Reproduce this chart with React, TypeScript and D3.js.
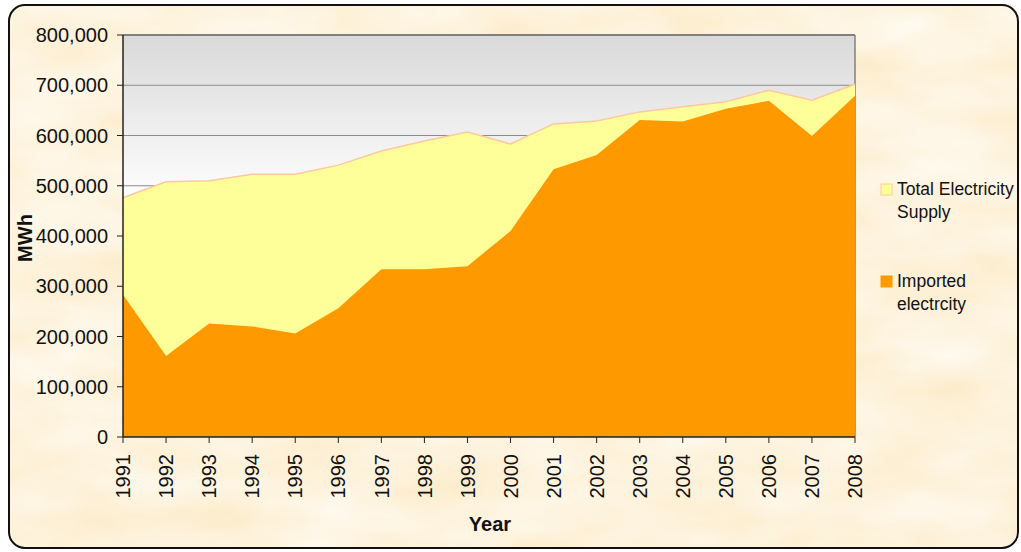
import React from "react";
import * as d3 from "d3";

const years = [1991,1992,1993,1994,1995,1996,1997,1998,1999,2000,2001,2002,2003,2004,2005,2006,2007,2008];
const totalSupply = [476000,508000,510000,523000,523000,541000,569000,589000,607000,583000,623000,629000,647000,657000,667000,690000,670000,702000];
const imported = [283000,161000,226000,220000,206000,256000,334000,334000,340000,410000,533000,561000,631000,628000,653000,669000,599000,679000];
const yTicks = [0,100000,200000,300000,400000,500000,600000,700000,800000];
const legendItems = [
  { lines: ["Total Electricity", "Supply"], color: "#FFFF99", stroke: "#FFCC99" },
  { lines: ["Imported", "electrcity"], color: "#FF9900", stroke: "#FF9900" },
];

const W = 1021, H = 552;
const plot = { left: 123, right: 855, top: 35, bottom: 437 };

export default function App() {
  const x = d3.scaleLinear().domain([1991, 2008]).range([plot.left, plot.right]);
  const y = d3.scaleLinear().domain([0, 800000]).range([plot.bottom, plot.top]);
  const fmt = d3.format(",");

  const areaGen = d3.area<number>()
    .x((_, i) => x(years[i]))
    .y0(y(0))
    .y1((d) => y(d));
  const lineGen = d3.line<number>().x((_, i) => x(years[i])).y((d) => y(d));

  const font = "'Liberation Sans', Arial, sans-serif";

  return (
    <svg width={W} height={H} style={{ position: "absolute", left: 0, top: 0, display: "block" }} fontFamily={font}>
      <defs>
        <filter id="parch" x="0" y="0" width="100%" height="100%">
          <feTurbulence type="fractalNoise" baseFrequency="0.008 0.02" numOctaves="4" seed="7" result="n" />
          <feColorMatrix in="n" type="matrix"
            values="0.04 0 0 0 0.964  0.16 0 0 0 0.814  0.38 0 0 0 0.535  0 0 0 0 1" />
        </filter>
        <clipPath id="frameClip">
          <rect x={9} y={5} width={1009} height={543} rx={16} ry={16} />
        </clipPath>
        <linearGradient id="plotGrad" x1="0" y1="0" x2="0" y2="1">
          <stop offset="0" stopColor="#D9D9D9" />
          <stop offset="0.42" stopColor="#FFFFFF" />
          <stop offset="1" stopColor="#FFFFFF" />
        </linearGradient>
      </defs>
      <rect x={0} y={0} width={W} height={H} fill="#ffffff" />
      <g clipPath="url(#frameClip)">
        <rect x={0} y={0} width={W} height={H} fill="#FAE2B2" />
        <rect x={0} y={0} width={W} height={H} filter="url(#parch)" />
      </g>
      <rect x={9} y={5} width={1009} height={543} rx={16} ry={16} fill="none" stroke="#111" strokeWidth={2} />

      {/* plot area */}
      <rect x={plot.left} y={plot.top} width={plot.right - plot.left} height={plot.bottom - plot.top} fill="url(#plotGrad)" />
      {yTicks.filter((t) => t > 0).map((t) => (
        <line key={t} x1={plot.left} x2={plot.right} y1={y(t)} y2={y(t)} stroke="#8C8C8C" strokeWidth={1} />
      ))}
      <line x1={plot.left} x2={plot.right} y1={plot.top} y2={plot.top} stroke="#808080" strokeWidth={2} />
      <line x1={plot.right} x2={plot.right} y1={plot.top} y2={plot.bottom} stroke="#808080" strokeWidth={1.5} />

      <path d={areaGen(totalSupply) || ""} fill="#FFFF99" />
      <path d={lineGen(totalSupply) || ""} fill="none" stroke="#FFC8A0" strokeWidth={1.5} />
      <path d={areaGen(imported) || ""} fill="#FF9900" />

      {/* axes */}
      <line x1={plot.left} x2={plot.left} y1={plot.top} y2={plot.bottom} stroke="#222" strokeWidth={1.5} />
      <line x1={plot.left} x2={plot.right} y1={plot.bottom} y2={plot.bottom} stroke="#222" strokeWidth={1.5} />
      {yTicks.map((t) => (
        <g key={t}>
          <line x1={plot.left - 6} x2={plot.left} y1={y(t)} y2={y(t)} stroke="#222" strokeWidth={1} />
          <text x={108} y={y(t)} dy="0.36em" textAnchor="end" fontSize={20} fill="#111">{fmt(t)}</text>
        </g>
      ))}
      {years.map((yr) => (
        <g key={yr}>
          <line x1={x(yr)} x2={x(yr)} y1={plot.bottom} y2={plot.bottom + 6} stroke="#222" strokeWidth={1} />
          <text transform={`translate(${x(yr)},${454}) rotate(-90)`} dy="0.36em" textAnchor="end" fontSize={20} fill="#111">{yr}</text>
        </g>
      ))}
      <text x={490} y={531} textAnchor="middle" fontSize={20} fontWeight="bold" fill="#111">Year</text>
      <text transform="translate(32,238) rotate(-90)" textAnchor="middle" fontSize={20} fontWeight="bold" fill="#111">MWh</text>

      {/* legend */}
      {legendItems.map((it, i) => {
        const base = i === 0 ? 195 : 287;
        return (
          <g key={i}>
            <rect x={881} y={base - 11} width={11} height={11} fill={it.color} stroke={it.stroke} strokeWidth={1} />
            {it.lines.map((ln, j) => (
              <text key={j} x={897} y={base + j * 23} fontSize={17.5} fill="#111">{ln}</text>
            ))}
          </g>
        );
      })}
    </svg>
  );
}
